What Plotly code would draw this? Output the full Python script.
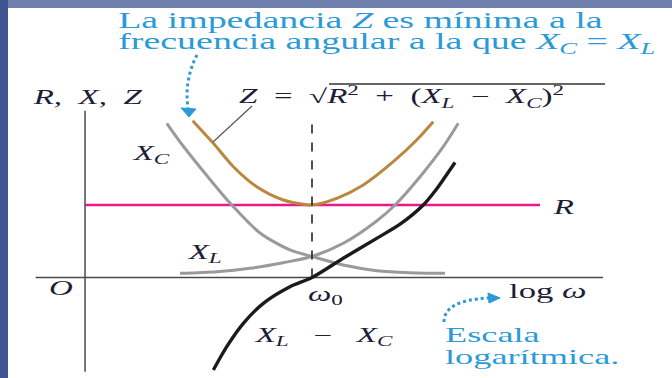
import plotly.graph_objects as go

# ---- curve data: x = log10(omega/omega0), y = ohms ----
XC_logw = [-0.988, -0.878, -0.716, -0.546, -0.354, -0.150, 0.0, 0.213, 0.440, 0.667, 0.905]
XC_ohm = [212.7, 181.7, 140.7, 100.0, 61.4, 38.0, 29.0, 17.2, 9.4, 6.6, 5.8]

XL_logw = [-0.898, -0.648, -0.422, -0.197, 0.0, 0.213, 0.440, 0.565, 0.735, 0.893, 0.995]
XL_ohm = [5.8, 8.0, 12.7, 20.4, 29.0, 47.2, 78.0, 100.0, 139.0, 180.4, 212.7]

Z_logw = [-0.812, -0.671, -0.535, -0.376, -0.195, -0.059, 0.0, 0.168, 0.349, 0.553, 0.712, 0.825]
Z_ohm = [216.3, 185.1, 152.8, 125.2, 106.9, 101.0, 100.0, 109.2, 127.6, 159.7, 189.7, 214.9]

XLC_logw = [-0.671, -0.580, -0.467, -0.331, -0.150, 0.0, 0.215, 0.440, 0.599, 0.757, 0.837, 0.905, 0.973]
XLC_ohm = [-127.6, -95.4, -63.2, -35.6, -12.7, 0.0, 26.9, 54.0, 73.5, 100.0, 119.3, 138.6, 158.6]

R_logw = [-1.544, 1.551]
R_ohm = [100.0, 100.0]

# ---- canvas geometry ----
W, H = 672, 378
X_RANGE = [-2.12245, 2.44898]
Y_RANGE = [-138.62, 382.76]
TEXT_STRETCH = 1.65   # wide (horizontally stretched) lettering


def fx(x):
    """pixel column -> paper fraction"""
    return x / W


def fy(y):
    """pixel row -> paper fraction"""
    return 1 - y / H


BLUE = "#2b9ad6"
INK = "#1c2035"
SERIF = "Liberation Serif"

fig = go.Figure()


def curve(x, y, color, width):
    fig.add_trace(go.Scatter(
        x=x, y=y, mode="lines",
        line=dict(color=color, width=width, shape="spline", smoothing=0.8),
        hoverinfo="skip", showlegend=False,
    ))


curve(R_logw, R_ohm, "#e8198b", 2.6)
curve(XC_logw, XC_ohm, "#9a9a9a", 3)
curve(XL_logw, XL_ohm, "#9a9a9a", 3)
curve(Z_logw, Z_ohm, "#b9873d", 3)
curve(XLC_logw, XLC_ohm, "#1b1b1b", 3.4)

shapes = []
# blue frame strips
shapes.append(dict(type="rect", xref="paper", yref="paper", x0=0, x1=1, y0=fy(8), y1=1,
                   fillcolor="#6f7fae", line_width=0, layer="above"))
shapes.append(dict(type="rect", xref="paper", yref="paper", x0=0, x1=fx(8), y0=0, y1=1,
                   fillcolor="#3e5592", line_width=0, layer="above"))
# diagram axes
shapes.append(dict(type="line", xref="x", yref="y", x0=-1.88, x1=1.98, y0=0, y1=0,
                   line=dict(color="#4a4a4a", width=1.5), layer="below"))
shapes.append(dict(type="line", xref="x", yref="y", x0=-1.544, x1=-1.544, y0=-130, y1=230,
                   line=dict(color="#4a4a4a", width=1.5), layer="below"))
# omega0 marker
shapes.append(dict(type="line", xref="x", yref="y", x0=0, x1=0, y0=0, y1=214,
                   line=dict(color="#222222", width=1.6, dash="dash")))
# leader from the Z formula to the Z curve
shapes.append(dict(type="line", xref="paper", yref="paper", x0=fx(252), y0=fy(106),
                   x1=fx(213), y1=fy(142), line=dict(color="#555555", width=1.2)))
# radical overline
shapes.append(dict(type="line", xref="paper", yref="paper", x0=fx(329), y0=fy(84),
                   x1=fx(605), y1=fy(84), line=dict(color="#333333", width=1.3)))


def ppath(pts, close=False):
    s = "M " + " L ".join(f"{fx(a):.5f},{fy(b):.5f}" for a, b in pts)
    return s + (" Z" if close else "")


def qpath(p0, c, p1):
    return (f"M {fx(p0[0]):.5f},{fy(p0[1]):.5f} Q {fx(c[0]):.5f},{fy(c[1]):.5f} "
            f"{fx(p1[0]):.5f},{fy(p1[1]):.5f}")


# dotted callout arrows
shapes.append(dict(type="path", xref="paper", yref="paper",
                   path=qpath((197, 55), (184, 80), (188, 108)),
                   line=dict(color=BLUE, width=3, dash="dot")))
shapes.append(dict(type="path", xref="paper", yref="paper",
                   path=ppath([(181, 108), (196, 109), (189, 117)], close=True),
                   fillcolor=BLUE, line=dict(color=BLUE, width=1)))
shapes.append(dict(type="path", xref="paper", yref="paper",
                   path=qpath((444, 322), (444, 300), (489, 298)),
                   line=dict(color=BLUE, width=3, dash="dot")))
shapes.append(dict(type="path", xref="paper", yref="paper",
                   path=ppath([(488, 293), (500, 298), (489, 303)], close=True),
                   fillcolor=BLUE, line=dict(color=BLUE, width=1)))

ann = []


def label(x, y, text, size=20, color=INK):
    ann.append(dict(x=fx(x), y=fy(y), xref="paper", yref="paper", text=text,
                    showarrow=False, xanchor="left", yanchor="middle",
                    font=dict(family=SERIF, size=size, color=color)))


label(116, 20, "La impedancia <i>Z</i> es mínima a la", 23, BLUE)
label(116, 43, "frecuencia angular a la que <i>X<sub>C</sub></i> = <i>X<sub>L</sub></i>", 23, BLUE)
label(30, 97, "<i>R,  X,  Z</i>", 20)
label(237, 97, "<i>Z</i>  =  √<i>R</i><sup>2</sup>  +  (<i>X<sub>L</sub></i>  −  <i>X<sub>C</sub></i>)<sup>2</sup>", 20)
label(130, 155, "<i>X<sub>C</sub></i>", 20)
label(185, 253, "<i>X<sub>L</sub></i>", 20)
label(550, 207, "<i>R</i>", 20)
label(47, 288, "<i>O</i>", 20)
label(306, 295, "<i>ω</i><sub>0</sub>", 20)
label(507, 291, "log <i>ω</i>", 21)
label(252, 336, "<i>X<sub>L</sub></i>   −   <i>X<sub>C</sub></i>", 20)
label(443, 334, "Escala", 22, BLUE)
label(443, 356, "logarítmica.", 22, BLUE)

fig.update_layout(
    width=W, height=H,
    margin=dict(l=0, r=0, t=0, b=0),
    paper_bgcolor="white", plot_bgcolor="white",
    xaxis=dict(range=X_RANGE, visible=False, fixedrange=True),
    yaxis=dict(range=Y_RANGE, visible=False, fixedrange=True),
    shapes=shapes, annotations=ann,
    showlegend=False,
)

# widen every annotation's lettering about its left edge
stretch_js = """
var gd = document.getElementById('{plot_id}');
gd.querySelectorAll('g.annotation text.annotation-text').forEach(function (t) {
    var b = t.getBBox();
    var s = %s;
    var prev = t.getAttribute('transform') || '';
    t.setAttribute('transform', prev + ' translate(' + (b.x * (1 - s)) + ',0) scale(' + s + ',1)');
});
""" % TEXT_STRETCH

fig.write_html("out.html", config={"displayModeBar": False}, post_script=stretch_js)
